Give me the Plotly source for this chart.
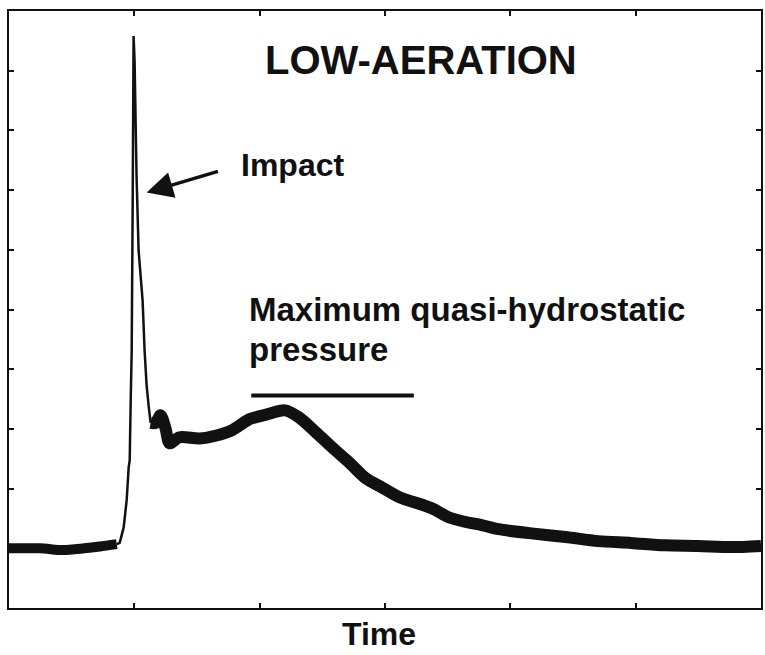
import plotly.graph_objects as go

# ---- data (time in tick units, pressure in tick units) ----
baseline_t = [0.0, 0.25, 0.43, 0.60, 0.724, 0.86]
baseline_p = [1.00, 1.00, 0.97, 1.00, 1.03, 1.07]

impact_t = [0.86, 0.883, 0.915, 0.939, 0.955, 0.963, 0.971, 0.979, 0.987, 0.994,
            1.002, 1.010, 1.018, 1.034, 1.050, 1.066, 1.082, 1.098, 1.114, 1.130]
impact_p = [1.07, 1.09, 1.35, 1.81, 2.36, 2.47, 3.48, 4.31, 6.82, 9.58,
            9.16, 8.16, 7.21, 5.99, 5.48, 5.15, 4.31, 3.73, 3.39, 3.10]

decay_t = [1.130, 1.170, 1.209, 1.250, 1.281, 1.360, 1.519, 1.655, 1.782, 1.917,
           2.053, 2.204, 2.315, 2.450, 2.578, 2.713, 2.848, 2.975, 3.111, 3.373,
           3.508, 3.644, 3.771, 3.906, 4.169, 4.439, 4.702, 4.964, 5.235, 5.497,
           5.760, 6.0]
decay_p = [3.10, 3.10, 3.23, 3.00, 2.76, 2.86, 2.84, 2.89, 2.98, 3.16,
           3.24, 3.31, 3.19, 2.94, 2.69, 2.44, 2.17, 2.02, 1.86, 1.67,
           1.52, 1.44, 1.39, 1.32, 1.25, 1.19, 1.12, 1.09, 1.05, 1.04,
           1.02, 1.04]

max_bar_t = [1.933, 3.23]
max_bar_p = [3.56, 3.56]

arrow_tail = (1.679, 7.32)
arrow_tip = (1.098, 6.96)

x_ticks = [1, 2, 3, 4, 5]
y_ticks = [1, 2, 3, 4, 5, 6, 7, 8, 9]

INK = "#111111"
FONT = "Liberation Sans"

fig = go.Figure()
fig.add_trace(go.Scatter(x=baseline_t, y=baseline_p, mode="lines",
                         line=dict(color=INK, width=10, shape="spline", smoothing=0.8),
                         hoverinfo="skip"))
fig.add_trace(go.Scatter(x=decay_t, y=decay_p, mode="lines",
                         line=dict(color=INK, width=12, shape="spline", smoothing=0.8),
                         hoverinfo="skip"))
fig.add_trace(go.Scatter(x=impact_t, y=impact_p, mode="lines",
                         line=dict(color=INK, width=2.5), hoverinfo="skip"))
fig.add_trace(go.Scatter(x=max_bar_t, y=max_bar_p, mode="lines",
                         line=dict(color=INK, width=4), hoverinfo="skip"))

fig.add_annotation(x=3.286, y=9.18, xref="x", yref="y", text="<b>LOW-AERATION</b>",
                   showarrow=False, xanchor="center", yanchor="middle",
                   font=dict(family=FONT, size=40, color=INK))
fig.add_annotation(x=1.838, y=7.42, xref="x", yref="y", text="<b>Impact</b>",
                   showarrow=False, xanchor="left", yanchor="middle",
                   font=dict(family=FONT, size=32, color=INK))
fig.add_annotation(x=1.901, y=5.0, xref="x", yref="y",
                   text="<b>Maximum quasi-hydrostatic</b>",
                   showarrow=False, xanchor="left", yanchor="middle",
                   font=dict(family=FONT, size=33, color=INK))
fig.add_annotation(x=1.901, y=4.33, xref="x", yref="y", text="<b>pressure</b>",
                   showarrow=False, xanchor="left", yanchor="middle",
                   font=dict(family=FONT, size=33, color=INK))
fig.add_annotation(x=arrow_tip[0], y=arrow_tip[1], ax=arrow_tail[0], ay=arrow_tail[1],
                   xref="x", yref="y", axref="x", ayref="y", text="",
                   showarrow=True, arrowhead=2, arrowsize=1.5, arrowwidth=3.5,
                   arrowcolor=INK, standoff=0)
fig.add_annotation(x=0.492, y=0, xref="paper", yref="paper", text="<b>Time</b>",
                   showarrow=False, xanchor="center", yanchor="bottom", yshift=-46,
                   font=dict(family=FONT, size=32, color=INK))

axis_common = dict(showgrid=False, zeroline=False, showline=True, linewidth=2,
                   linecolor=INK, mirror="ticks", ticks="inside", ticklen=5,
                   tickwidth=1.5, tickcolor=INK, showticklabels=False)

fig.update_layout(
    width=765, height=655,
    margin=dict(l=9, r=2, t=11, b=47),
    paper_bgcolor="white", plot_bgcolor="white",
    showlegend=False,
    xaxis=dict(range=[0, 6], tickvals=x_ticks, **axis_common),
    yaxis=dict(range=[0, 10], tickvals=y_ticks, **axis_common),
)

fig.write_html("out.html")
